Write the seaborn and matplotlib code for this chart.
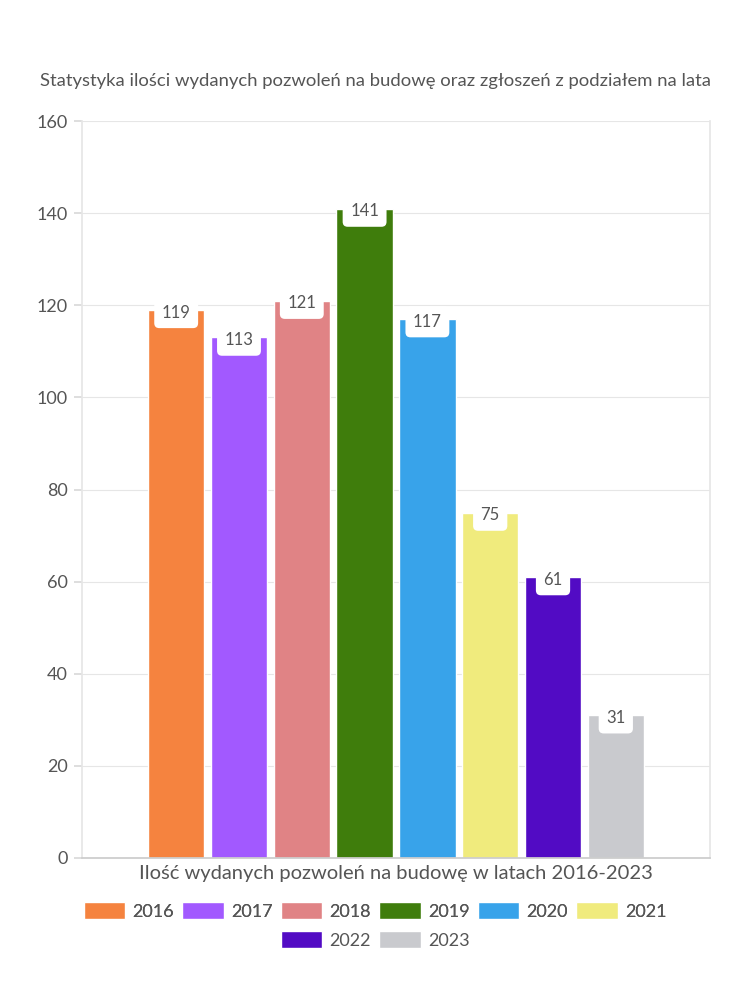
import pandas as pd
import matplotlib
matplotlib.use('Agg')
import matplotlib.pyplot as plt
import seaborn as sns

# Data
years = ['2016', '2017', '2018', '2019', '2020', '2021', '2022', '2023']
permits = [119, 113, 121, 141, 117, 75, 61, 31]
colors = ['#F5833F', '#A259FF', '#E08385', '#3F7D0C', '#38A3EA', '#F0EB7D', '#520BC4', '#C9CACE']
x_label = 'Ilość wydanych pozwoleń na budowę w latach 2016-2023'
title = 'Statystyka ilości wydanych pozwoleń na budowę oraz zgłoszeń z podziałem na lata'

df = pd.DataFrame({'group': [x_label] * len(years), 'year': years, 'count': permits})

sns.set_theme(style='white')
plt.rcParams['font.family'] = ['Lato', 'DejaVu Sans']
text_col = '#555555'

fig = plt.figure(figsize=(7.5, 10), dpi=100)
ax = fig.add_axes([0.1093, 0.142, 0.8374, 0.737])

sns.barplot(data=df, x='group', y='count', hue='year', palette=colors,
            width=0.8, gap=0.1, saturation=1, ax=ax)

# value labels in white rounded boxes hanging from bar tops
for patch, v in zip(ax.patches, permits):
    cx = patch.get_x() + patch.get_width() / 2
    ax.text(cx, v - 0.6, str(v), ha='center', va='center', fontsize=12, color=text_col,
            bbox=dict(boxstyle='round,pad=0.45,rounding_size=0.3', fc='white', ec='none'))

ax.set_ylim(0, 160)
ax.set_yticks(range(0, 161, 20))
ax.set_xlim(-0.5, 0.5)
ax.yaxis.grid(True, color='#e6e6e6', linewidth=0.8)
ax.set_axisbelow(True)
ax.tick_params(axis='y', left=True, length=6, color='#d9d9d9', labelsize=13,
               labelcolor=text_col, pad=4)
ax.tick_params(axis='x', bottom=False, labelbottom=False)
for side in ['left', 'right']:
    ax.spines[side].set_color('#e6e6e6')
ax.spines['top'].set_visible(False)
ax.spines['bottom'].set_color('#cccccc')
ax.set_ylabel('')
ax.set_xlabel(x_label, fontsize=14.5, color=text_col, labelpad=5)

fig.text(0.5, 0.919, title, ha='center', va='center', fontsize=13.3, color=text_col)

# legend: two centred rows (6 + 2 entries)
handles, labels = ax.get_legend_handles_labels()
ax.get_legend().remove()
leg_kw = dict(frameon=False, fontsize=13, handlelength=2.3, handleheight=1.05,
              handletextpad=0.4, columnspacing=0.45, labelcolor=text_col)
leg1 = fig.legend(handles[:6], labels[:6], loc='center', bbox_to_anchor=(0.5, 0.089),
                  ncol=6, **leg_kw)
fig.add_artist(leg1)
fig.legend(handles[6:], labels[6:], loc='center', bbox_to_anchor=(0.5, 0.060),
           ncol=2, **leg_kw)

fig.savefig('out.png', dpi=100, facecolor='white')
